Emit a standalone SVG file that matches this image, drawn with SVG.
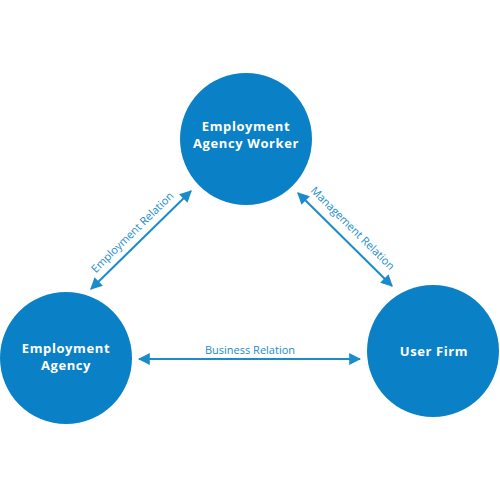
<svg xmlns="http://www.w3.org/2000/svg" width="500" height="500" viewBox="0 0 500 500">
<style>
.node{fill:#0a80c6}
.nt{font-family:"Open Sans",Lato,sans-serif;font-weight:700;font-size:13px;letter-spacing:0.6px;fill:#ffffff;text-anchor:middle}
.edge{stroke:#1a8ccc;stroke-width:2;fill:none;marker-start:url(#ah);marker-end:url(#ah)}
.el{font-family:"Open Sans",Lato,sans-serif;font-size:11px;fill:#1a8ccc;text-anchor:middle}
</style>
<defs>
<marker id="ah" viewBox="0 0 10 10" refX="9" refY="5" markerWidth="6" markerHeight="6" orient="auto-start-reverse" markerUnits="strokeWidth">
<path d="M0,0 L10,5 L0,10 z" fill="#1a8ccc"/>
</marker>
</defs>
<rect width="500" height="500" fill="#ffffff"/>
<g id="connectors">
<line class="edge" x1="91" y1="289" x2="191" y2="191"/>
<line class="edge" x1="298" y1="193" x2="392" y2="286"/>
<line class="edge" x1="139" y1="359" x2="360" y2="359"/>
<text class="el" transform="translate(135,235) rotate(-44.4)">Employment Relation</text>
<text class="el" transform="translate(350,231) rotate(44.7)">Management Relation</text>
<text class="el" x="250" y="354">Business Relation</text>
</g>
<g id="worker">
<circle class="node" cx="246" cy="139" r="66"/>
<text class="nt" x="246" y="131">Employment</text>
<text class="nt" x="246" y="148">Agency Worker</text>
</g>
<g id="agency">
<circle class="node" cx="66" cy="358" r="66"/>
<text class="nt" x="66" y="353">Employment</text>
<text class="nt" x="66" y="370">Agency</text>
</g>
<g id="userfirm">
<circle class="node" cx="433" cy="351" r="66"/>
<text class="nt" x="434" y="356">User Firm</text>
</g>
</svg>
